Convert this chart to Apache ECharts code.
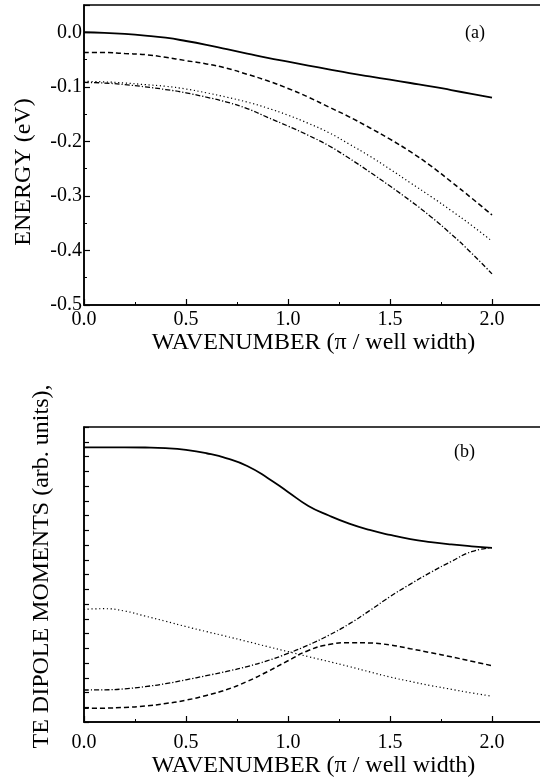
<!DOCTYPE html>
<html>
<head>
<meta charset="utf-8">
<script src="https://cdn.jsdelivr.net/npm/echarts@6/dist/echarts.min.js"></script>
<style>
  html, body { margin: 0; padding: 0; background: #fff; overflow: hidden; }
  #chart { width: 545px; height: 783px; }
</style>
</head>
<body>
<div id="chart"></div>
<script>
// Wavenumber samples (units of pi / well width)
const wavenumber = [0.0, 0.1, 0.2, 0.3, 0.4, 0.5, 0.6, 0.7, 0.8, 0.9, 1.0,
                    1.1, 1.2, 1.3, 1.4, 1.5, 1.6, 1.7, 1.8, 1.9, 2.0];

// (a) subband energies, eV
const energySolid   = [0.000, -0.001, -0.003, -0.006, -0.010, -0.016, -0.023, -0.031, -0.039, -0.047, -0.054,
                       -0.061, -0.068, -0.075, -0.081, -0.087, -0.093, -0.099, -0.106, -0.113, -0.120];
const energyDashed  = [-0.037, -0.037, -0.039, -0.041, -0.046, -0.052, -0.058, -0.066, -0.077, -0.089, -0.103,
                       -0.119, -0.137, -0.155, -0.175, -0.196, -0.219, -0.245, -0.274, -0.304, -0.335];
const energyDotted  = [-0.090, -0.091, -0.093, -0.096, -0.099, -0.104, -0.111, -0.119, -0.128, -0.139, -0.152,
                       -0.167, -0.184, -0.205, -0.227, -0.251, -0.276, -0.301, -0.327, -0.354, -0.383];
const energyDashDot = [-0.092, -0.093, -0.096, -0.100, -0.105, -0.111, -0.119, -0.128, -0.140, -0.156, -0.172,
                       -0.189, -0.208, -0.231, -0.256, -0.282, -0.309, -0.338, -0.370, -0.405, -0.443];

// (b) TE dipole moments, arbitrary units
const dipoleSolid   = [18.62, 18.62, 18.62, 18.61, 18.57, 18.45, 18.22, 17.88, 17.36, 16.55, 15.60,
                       14.65, 14.00, 13.45, 13.02, 12.68, 12.40, 12.20, 12.04, 11.91, 11.80];
const dipoleDashed  = [0.93, 0.94, 0.99, 1.08, 1.25, 1.48, 1.80, 2.20, 2.75, 3.42, 4.15,
                       4.85, 5.25, 5.38, 5.36, 5.22, 4.97, 4.70, 4.42, 4.12, 3.82];
const dipoleDotted  = [7.64, 7.68, 7.52, 7.18, 6.83, 6.47, 6.13, 5.80, 5.46, 5.11, 4.77,
                       4.43, 4.10, 3.76, 3.40, 3.05, 2.75, 2.47, 2.22, 1.97, 1.75];
const dipoleDashDot = [2.17, 2.18, 2.25, 2.40, 2.60, 2.86, 3.14, 3.43, 3.76, 4.16, 4.65,
                       5.22, 5.88, 6.65, 7.55, 8.50, 9.35, 10.15, 10.88, 11.55, 11.82];

const FONT = '"Liberation Serif", "Times New Roman", serif';
const pairs = arr => wavenumber.map((k, i) => [k, arr[i]]);

const STYLES = {
  solid:   { type: 'solid', width: 1.8 },
  dashed:  { type: [5, 3], width: 1.5 },
  dotted:  { type: [1.2, 2.6], width: 1.2 },
  dashdot: { type: [5, 2, 1.2, 2], width: 1.3 }
};

function curve(gridIdx, arr, style) {
  return {
    type: 'line',
    xAxisIndex: gridIdx,
    yAxisIndex: gridIdx,
    data: pairs(arr),
    smooth: true,
    symbol: 'none',
    lineStyle: Object.assign({ color: '#000' }, STYLES[style]),
    silent: true
  };
}

function xAxisFor(gridIdx, nameGap, labelMargin) {
  return {
    type: 'value',
    gridIndex: gridIdx,
    min: 0,
    max: 2.25,
    interval: 0.5,
    name: 'WAVENUMBER (\u03c0 / well width)',
    nameLocation: 'middle',
    nameGap: nameGap,
    nameTextStyle: { fontFamily: FONT, fontSize: 24, color: '#000' },
    axisLine: { show: true, onZero: false, lineStyle: { color: '#000', width: 1.5 } },
    axisTick: { show: true, inside: true, length: 6, lineStyle: { color: '#000', width: 1.2 } },
    minorTick: { show: true, splitNumber: 2, length: 3, lineStyle: { color: '#000', width: 1 } },
    axisLabel: {
      fontFamily: FONT, fontSize: 20, color: '#000', margin: labelMargin,
      showMaxLabel: false,
      formatter: v => v.toFixed(1)
    },
    splitLine: { show: false },
    minorSplitLine: { show: false }
  };
}

const option = {
  animation: false,
  backgroundColor: '#fff',
  grid: [
    { left: 84, top: 5, width: 459, height: 300, show: true, borderColor: '#000', borderWidth: 1.5, backgroundColor: 'transparent' },
    { left: 84, top: 427, width: 459, height: 295, show: true, borderColor: '#000', borderWidth: 1.5, backgroundColor: 'transparent' }
  ],
  xAxis: [
    xAxisFor(0, 24, 5),
    xAxisFor(1, 28, 11)
  ],
  yAxis: [
    {
      type: 'value',
      gridIndex: 0,
      min: -0.5,
      max: 0.05,
      interval: 0.1,
      name: 'ENERGY (eV)',
      nameLocation: 'middle',
      nameGap: 48,
      nameTextStyle: { fontFamily: FONT, fontSize: 24, color: '#000', padding: [0, 34, 0, 0] },
      axisLine: { show: true, onZero: false, lineStyle: { color: '#000', width: 1.5 } },
      axisTick: { show: true, inside: true, length: 6, lineStyle: { color: '#000', width: 1.2 } },
      minorTick: { show: true, splitNumber: 2, length: 3, lineStyle: { color: '#000', width: 1 } },
      axisLabel: {
        fontFamily: FONT, fontSize: 20, color: '#000', margin: 2,
        showMaxLabel: false,
        formatter: v => v.toFixed(1)
      },
      splitLine: { show: false },
      minorSplitLine: { show: false }
    },
    {
      type: 'value',
      gridIndex: 1,
      min: 0,
      max: 20,
      interval: 1,
      name: 'TE DIPOLE MOMENTS (arb. units),',
      nameLocation: 'middle',
      nameGap: 30,
      nameTextStyle: { fontFamily: FONT, fontSize: 24, color: '#000', padding: [0, 0, 0, 16] },
      axisLine: { show: true, onZero: false, lineStyle: { color: '#000', width: 1.5 } },
      axisTick: { show: true, inside: true, length: 5, lineStyle: { color: '#000', width: 1.2 } },
      axisLabel: { show: false },
      splitLine: { show: false }
    }
  ],
  graphic: [
    { type: 'text', left: 465, top: 24, style: { text: '(a)', font: '18px ' + FONT, fill: '#000' }, silent: true },
    { type: 'text', left: 454, top: 443, style: { text: '(b)', font: '18px ' + FONT, fill: '#000' }, silent: true }
  ],
  series: [
    curve(0, energySolid, 'solid'),
    curve(0, energyDashed, 'dashed'),
    curve(0, energyDotted, 'dotted'),
    curve(0, energyDashDot, 'dashdot'),
    curve(1, dipoleSolid, 'solid'),
    curve(1, dipoleDashed, 'dashed'),
    curve(1, dipoleDotted, 'dotted'),
    curve(1, dipoleDashDot, 'dashdot')
  ]
};

const chart = echarts.init(document.getElementById('chart'), null, { renderer: 'canvas' });
chart.setOption(option);
</script>
</body>
</html>
